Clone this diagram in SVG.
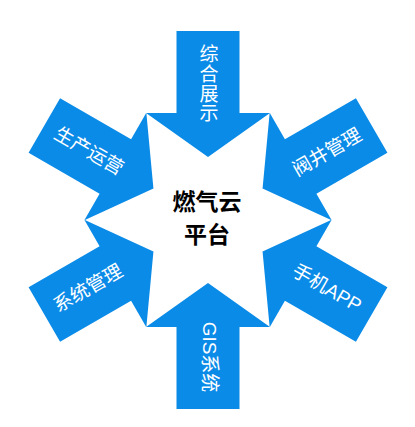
<svg xmlns="http://www.w3.org/2000/svg" width="415" height="427" viewBox="0 0 415 427">
<style>
.arr{fill:#0B8BE8;}
.lbl{fill:#FFFFFF;font-family:"Liberation Sans","Noto Sans CJK SC",sans-serif;font-size:19px;text-anchor:middle;dominant-baseline:central;}
.ctr{fill:#000000;font-family:"Noto Sans CJK SC",sans-serif;font-size:23px;font-weight:bold;text-anchor:middle;dominant-baseline:central;}
</style>
<defs>
<path id="arrowShape" d="M -31.5,-189 L 31.5,-189 L 31.5,-107 L 62,-107 L 0,-63 L -62,-107 L -31.5,-107 Z"/>
</defs>
<rect width="415" height="427" fill="#FFFFFF"/>
<g id="connectors"/>
<g id="node-top">
<use href="#arrowShape" class="arr" transform="translate(208,220)"/>
<text class="lbl" x="209"><tspan x="209" y="54">综</tspan><tspan x="209" y="74">合</tspan><tspan x="209" y="94">展</tspan><tspan x="209" y="113">示</tspan></text>
</g>
<g id="node-topright">
<use href="#arrowShape" class="arr" transform="translate(208,220) rotate(60)"/>
<text class="lbl" x="327" y="152" transform="rotate(-30 327 152)">阀井管理</text>
</g>
<g id="node-bottomright">
<use href="#arrowShape" class="arr" transform="translate(208,220) rotate(120)"/>
<text class="lbl" x="327" y="288" transform="rotate(30 327 288)">手机APP</text>
</g>
<g id="node-bottom">
<use href="#arrowShape" class="arr" transform="translate(208,220) rotate(180)"/>
<text class="lbl" x="209" y="357" transform="rotate(90 209 357)">GIS系统</text>
</g>
<g id="node-bottomleft">
<use href="#arrowShape" class="arr" transform="translate(208,220) rotate(240)"/>
<text class="lbl" x="88" y="288" transform="rotate(-30 88 288)">系统管理</text>
</g>
<g id="node-topleft">
<use href="#arrowShape" class="arr" transform="translate(208,220) rotate(300)"/>
<text class="lbl" x="89" y="151" transform="rotate(30 89 151)">生产运营</text>
</g>
<g id="node-center">
<text class="ctr" x="207" y="200">燃气云</text>
<text class="ctr" x="207" y="233">平台</text>
</g>
</svg>
